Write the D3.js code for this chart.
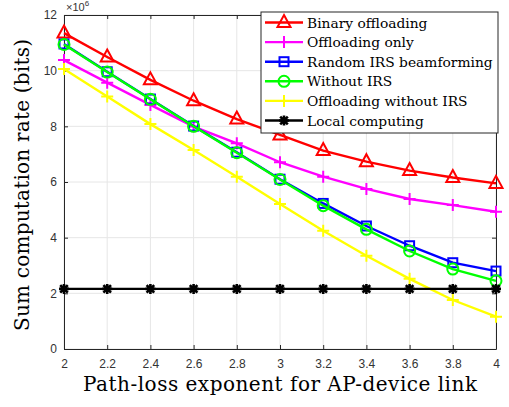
<!DOCTYPE html>
<html>
<head>
<meta charset="utf-8">
<script src="https://cdn.jsdelivr.net/npm/d3@7"></script>
<style>
  body { margin: 0; background: #fff; }
  svg { display: block; }
  .tick text { font-family: "Liberation Sans", Arial, Helvetica, sans-serif; font-size: 12px; fill: #333; }
  .serif { font-family: "DejaVu Serif", serif; }
</style>
</head>
<body>
<div id="chart-container"></div>
<script>
// x values (path-loss exponent)
const exponents = [2, 2.2, 2.4, 2.6, 2.8, 3, 3.2, 3.4, 3.6, 3.8, 4];

// series values, in units of 1e6 bits
const binaryOffloading = [11.35, 10.49, 9.67, 8.92, 8.26, 7.69, 7.13, 6.73, 6.41, 6.16, 5.95];
const offloadingOnly = [10.38, 9.57, 8.77, 7.99, 7.39, 6.71, 6.19, 5.75, 5.39, 5.17, 4.93];
const randomIRS = [10.96, 9.96, 8.98, 8.01, 7.07, 6.10, 5.23, 4.42, 3.71, 3.10, 2.80];
const withoutIRS = [10.94, 9.95, 8.97, 8.00, 7.05, 6.09, 5.15, 4.30, 3.52, 2.87, 2.45];
const offloadingWithoutIRS = [10.06, 9.07, 8.08, 7.15, 6.19, 5.21, 4.25, 3.35, 2.52, 1.76, 1.16];
const localComputing = [2.16, 2.16, 2.16, 2.16, 2.16, 2.16, 2.16, 2.16, 2.16, 2.16, 2.16];

const xTicks = [2, 2.2, 2.4, 2.6, 2.8, 3, 3.2, 3.4, 3.6, 3.8, 4];
const yTicks = [0, 2, 4, 6, 8, 10, 12];

const series = [
    { name: "Binary offloading", values: binaryOffloading, color: "#ff0000", marker: "triangle" },
    { name: "Offloading only", values: offloadingOnly, color: "#ff00ff", marker: "plus" },
    { name: "Random IRS beamforming", values: randomIRS, color: "#0000ff", marker: "square" },
    { name: "Without IRS", values: withoutIRS, color: "#00ff00", marker: "circle" },
    { name: "Offloading without IRS", values: offloadingWithoutIRS, color: "#ffff00", marker: "plus" },
    { name: "Local computing", values: localComputing, color: "#000000", marker: "star" }
];

const margin = { top: 15, right: 13, bottom: 58, left: 64 };
const width = 509 - margin.left - margin.right;
const height = 407 - margin.top - margin.bottom;

const svg = d3.select("#chart-container")
    .append("svg")
    .attr("width", 509)
    .attr("height", 407);

const g = svg.append("g")
    .attr("transform", `translate(${margin.left},${margin.top})`);

const x = d3.scaleLinear().domain([2, 4]).range([0, width]);
const y = d3.scaleLinear().domain([0, 12]).range([height, 0]);

// grid
g.append("g")
    .selectAll("line")
    .data(xTicks)
    .enter()
    .append("line")
    .attr("x1", d => x(d)).attr("x2", d => x(d))
    .attr("y1", 0).attr("y2", height)
    .attr("stroke", "#e6e6e6");
g.append("g")
    .selectAll("line")
    .data(yTicks)
    .enter()
    .append("line")
    .attr("x1", 0).attr("x2", width)
    .attr("y1", d => y(d)).attr("y2", d => y(d))
    .attr("stroke", "#e6e6e6");

// axes
const xAxis = g.append("g")
    .attr("transform", `translate(0,${height})`)
    .call(d3.axisBottom(x).tickValues(xTicks).tickSizeInner(-4).tickSizeOuter(0).tickPadding(10).tickFormat(d3.format("~g")));
const yAxis = g.append("g")
    .call(d3.axisLeft(y).tickValues(yTicks).tickSizeInner(-4).tickSizeOuter(0).tickPadding(7));
[xAxis, yAxis].forEach(a => {
    a.select(".domain").attr("stroke", "#262626");
    a.selectAll(".tick line").attr("stroke", "#262626");
});
g.append("g")
    .call(d3.axisTop(x).tickValues(xTicks).tickSizeInner(-4).tickSizeOuter(0).tickFormat(""))
    .call(a => a.selectAll("path, line").attr("stroke", "#262626"));
g.append("g")
    .attr("transform", `translate(${width},0)`)
    .call(d3.axisRight(y).tickValues(yTicks).tickSizeInner(-4).tickSizeOuter(0).tickFormat(""))
    .call(a => a.selectAll("path, line").attr("stroke", "#262626"));

// exponent label
const expo = g.append("text")
    .attr("x", 2).attr("y", -4)
    .style("font-family", "'Liberation Sans', Arial, sans-serif")
    .attr("font-size", 11)
    .attr("fill", "#333");
expo.append("tspan").text("\u00d710");
expo.append("tspan").attr("dy", -5).attr("font-size", 8).text("6");

// marker drawing
function drawMarker(sel, type, color) {
    if (type === "triangle") {
        sel.append("path").attr("d", "M0,-7.5L6.5,4.5L-6.5,4.5Z")
            .attr("fill", "none").attr("stroke", color).attr("stroke-width", 2);
    } else if (type === "plus") {
        sel.append("path").attr("d", "M-6,0H6M0,-6V6")
            .attr("stroke", color).attr("stroke-width", 2);
    } else if (type === "square") {
        sel.append("rect").attr("x", -4.5).attr("y", -4.5).attr("width", 9).attr("height", 9)
            .attr("fill", "none").attr("stroke", color).attr("stroke-width", 2);
    } else if (type === "circle") {
        sel.append("circle").attr("r", 5.5)
            .attr("fill", "none").attr("stroke", color).attr("stroke-width", 2);
    } else if (type === "star") {
        sel.append("path").attr("d", "M-5,0H5M0,-5V5M-3.8,-3.8L3.8,3.8M-3.8,3.8L3.8,-3.8")
            .attr("stroke", color).attr("stroke-width", 2.6);
        sel.append("circle").attr("r", 2.8).attr("fill", color);
    }
}

const line = d3.line()
    .x((d, i) => x(exponents[i]))
    .y(d => y(d));

series.forEach(s => {
    g.append("path")
        .datum(s.values)
        .attr("fill", "none")
        .attr("stroke", s.color)
        .attr("stroke-width", 2.4)
        .attr("d", line);
    g.selectAll(null)
        .data(s.values)
        .enter()
        .append("g")
        .attr("transform", (d, i) => `translate(${x(exponents[i])},${y(d)})`)
        .each(function () { drawMarker(d3.select(this), s.marker, s.color); });
});

// legend
const legend = svg.append("g").attr("transform", "translate(261,12)");
legend.append("rect")
    .attr("width", 237).attr("height", 121)
    .attr("fill", "#fff").attr("stroke", "#262626").attr("stroke-width", 1);
const rows = legend.selectAll(".row")
    .data(series)
    .enter()
    .append("g")
    .attr("class", "row")
    .attr("transform", (d, i) => `translate(0,${10.5 + i * 19.6})`);
rows.append("line")
    .attr("x1", 4).attr("x2", 42)
    .attr("stroke", d => d.color).attr("stroke-width", 2.4);
rows.append("g")
    .attr("transform", "translate(23,0)")
    .each(function (d) { drawMarker(d3.select(this), d.marker, d.color); });
rows.append("text")
    .attr("class", "serif")
    .attr("x", 46).attr("y", 5)
    .attr("font-size", 13.8)
    .attr("fill", "#000")
    .text(d => d.name);

// axis titles
svg.append("text")
    .attr("class", "serif")
    .attr("x", margin.left + width / 2).attr("y", 391)
    .attr("text-anchor", "middle")
    .attr("font-size", 20)
    .attr("textLength", 394)
    .attr("lengthAdjust", "spacing")
    .text("Path-loss exponent for AP-device link");
svg.append("text")
    .attr("class", "serif")
    .attr("transform", `translate(29,${margin.top + height / 2 + 3}) rotate(-90)`)
    .attr("text-anchor", "middle")
    .attr("font-size", 20)
    .attr("textLength", 292)
    .attr("lengthAdjust", "spacing")
    .text("Sum computation rate (bits)");
</script>
</body>
</html>
